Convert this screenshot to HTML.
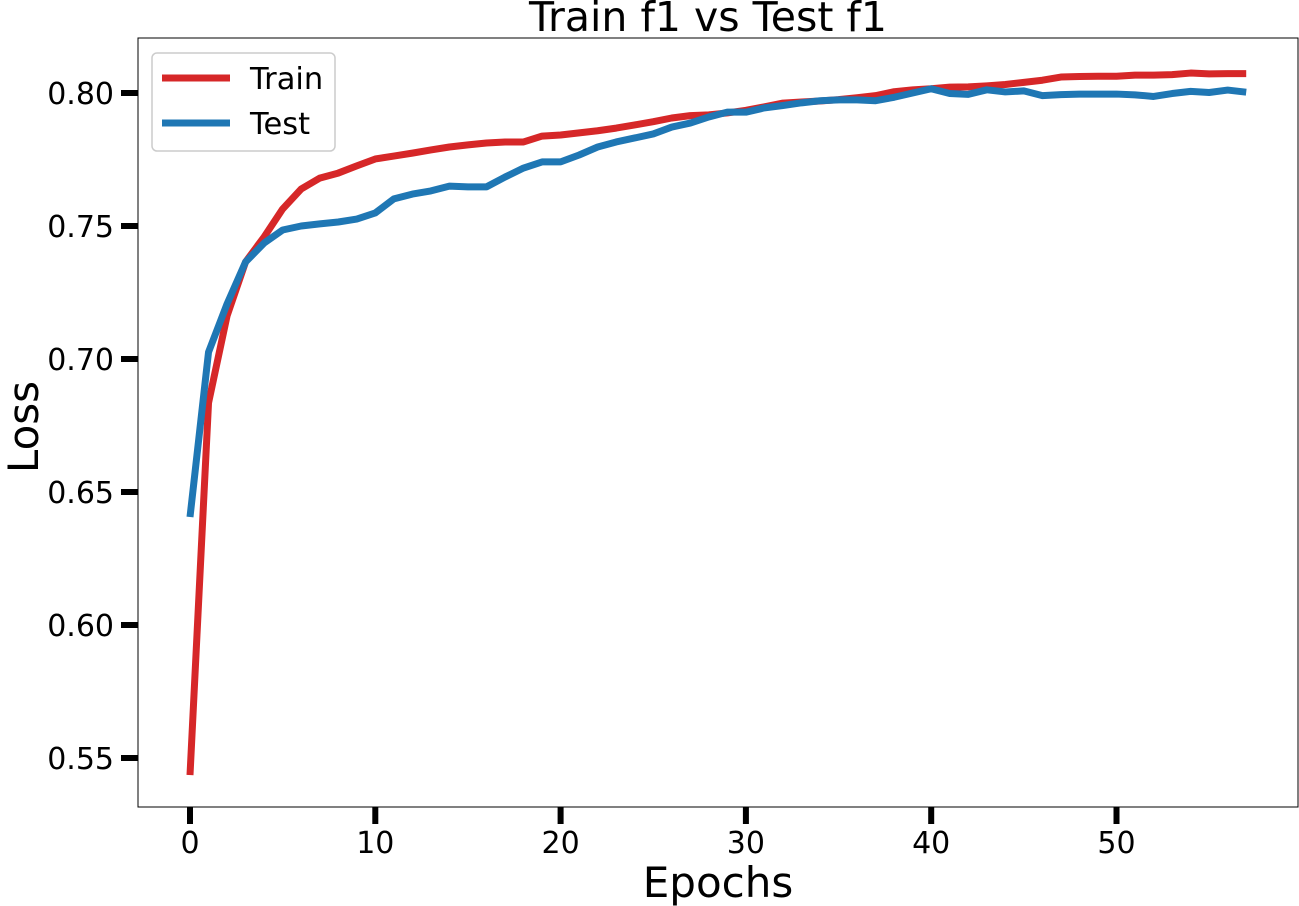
<!DOCTYPE html>
<html><head><meta charset="utf-8"><style>
body{margin:0;background:#fff;}
svg{display:block;font-family:"DejaVu Sans","Liberation Sans",sans-serif;}
</style></head><body>
<svg id="chart" width="1299" height="906"></svg>
<script>
const epochs = Array.from({length:58},(_,i)=>i);
const trainF1 = [0.5436,0.6835,0.7162,0.7365,0.7459,0.7564,0.7639,0.7680,0.7699,0.7726,0.7752,0.7763,0.7774,0.7786,0.7797,0.7805,0.7812,0.7816,0.7816,0.7838,0.7842,0.7850,0.7858,0.7868,0.7880,0.7892,0.7906,0.7915,0.7918,0.7925,0.7935,0.7948,0.7962,0.7966,0.7970,0.7975,0.7982,0.7990,0.8005,0.8012,0.8016,0.8022,0.8023,0.8027,0.8032,0.8040,0.8048,0.8060,0.8062,0.8063,0.8063,0.8067,0.8067,0.8069,0.8075,0.8072,0.8073,0.8073];
const testF1 = [0.6406,0.7026,0.7207,0.7365,0.7436,0.7485,0.7500,0.7508,0.7515,0.7526,0.7549,0.7602,0.7620,0.7632,0.7650,0.7647,0.7647,0.7684,0.7718,0.7741,0.7741,0.7767,0.7797,0.7816,0.7831,0.7846,0.7872,0.7887,0.7910,0.7928,0.7928,0.7944,0.7953,0.7963,0.7971,0.7974,0.7974,0.7971,0.7984,0.8000,0.8016,0.7998,0.7995,0.8012,0.8004,0.8008,0.7990,0.7994,0.7996,0.7996,0.7996,0.7993,0.7987,0.7998,0.8006,0.8002,0.8011,0.8003];
const xTicks = [0,10,20,30,40,50];
const yTicks = [0.55,0.60,0.65,0.70,0.75,0.80];

const svg = document.getElementById('chart');
const NS = 'http://www.w3.org/2000/svg';
const L=138,R=1298,T=38,B=807;
const xS = v => 190 + v*18.53;
const yS = v => 93 + (0.80 - v)*2660;
function mk(tag, attrs){const e=document.createElementNS(NS,tag);for(const k in attrs)e.setAttribute(k,attrs[k]);svg.appendChild(e);return e;}

let frame = mk('rect',{x:L,y:T,width:R-L,height:B-T,fill:'none',stroke:'#000','stroke-width':1});



xTicks.forEach(t=>{
  const tk = mk('line',{x1:xS(t),x2:xS(t),y1:B,y2:B+17,stroke:'#000','stroke-width':6});
  
  
  const tl = mk('text',{x:xS(t),y:B+46,'text-anchor':'middle','font-size':30});
  tl.textContent = t;
  
  
});
yTicks.forEach(t=>{
  const tk = mk('line',{x1:L-17,x2:L,y1:yS(t),y2:yS(t),stroke:'#000','stroke-width':6});
  
  
  const tl = mk('text',{x:L-24,y:yS(t)+11,'text-anchor':'end','font-size':30});
  tl.textContent = t.toFixed(2);
  
  
});

function series(vals,color,name){
  const p = mk('polyline',{points:vals.map((v,i)=>xS(epochs[i])+','+yS(v)).join(' '),fill:'none',stroke:color,'stroke-width':7,'stroke-linejoin':'round'});
  
  
}
series(trainF1,'#d62728','train-line');
series(testF1,'#1f77b4','test-line');

const title = mk('text',{x:708,y:31,'text-anchor':'middle','font-size':41});
title.textContent='Train f1 vs Test f1';


const xl = mk('text',{x:718,y:897,'text-anchor':'middle','font-size':42});
xl.textContent='Epochs';


const yl = mk('text',{x:0,y:0,'text-anchor':'middle','font-size':42,transform:'translate(38,427) rotate(-90)'});
yl.textContent='Loss';



const lg = mk('rect',{x:152,y:53,width:183,height:98,rx:5,fill:'#fff',stroke:'#ccc','stroke-width':1.5});


[['Train','#d62728',78],['Test','#1f77b4',123]].forEach(([n,c,y])=>{
  const ln = mk('line',{x1:162,x2:230,y1:y,y2:y,stroke:c,'stroke-width':7});
  
  
  const tx = mk('text',{x:250,y:y+11,'font-size':30.5});
  tx.textContent=n;
  
  
});
</script>
</body></html>
